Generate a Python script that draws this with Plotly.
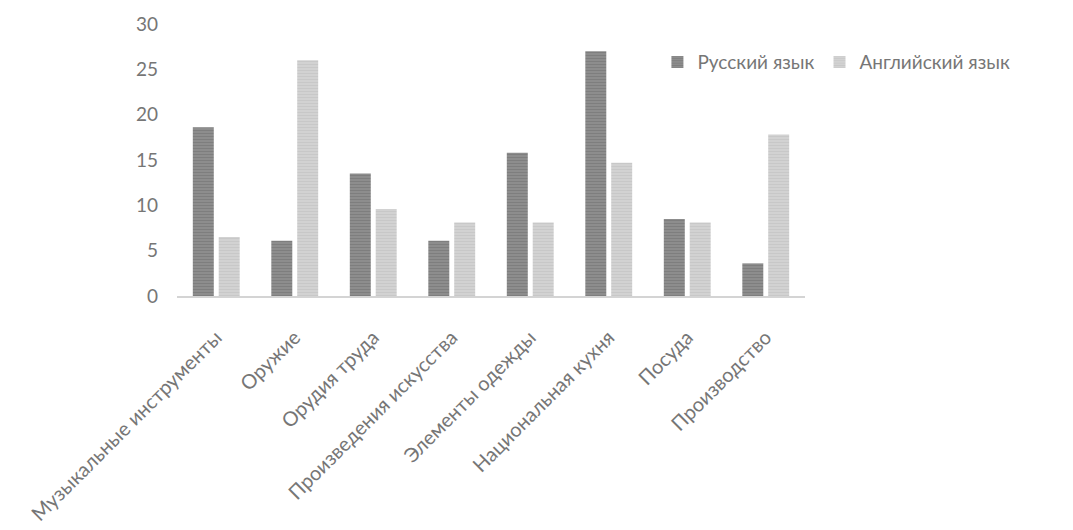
import plotly.graph_objects as go

categories = ["Музыкальные инструменты", "Оружие", "Орудия труда", "Произведения искусства",
              "Элементы одежды", "Национальная кухня", "Посуда", "Производство"]
russian = [18.6, 6.1, 13.5, 6.1, 15.8, 27.0, 8.5, 3.6]
english = [6.5, 26.0, 9.6, 8.1, 8.1, 14.7, 8.1, 17.8]
series_names = ["Русский язык", "Английский язык"]

FONT = "Lato"
TXT = "#767676"

fig = go.Figure()
fig.add_trace(go.Bar(
    x=categories, y=russian, name=series_names[0],
    marker=dict(color="#8a8a8a", line=dict(width=0),
                pattern=dict(shape="-", fgcolor="#6e6e6e", bgcolor="#8e8e8e", size=3, solidity=0.4)),
))
fig.add_trace(go.Bar(
    x=categories, y=english, name=series_names[1],
    marker=dict(color="#cfcfcf", line=dict(width=0),
                pattern=dict(shape="-", fgcolor="#bdbdbd", bgcolor="#d3d3d3", size=3, solidity=0.4)),
))

fig.update_layout(
    width=1073, height=530,
    margin=dict(l=177, r=268, t=24, b=234),
    paper_bgcolor="white", plot_bgcolor="white",
    barmode="group", bargap=0.34, bargroupgap=0.19,
    font=dict(family=FONT, size=19, color=TXT),
    showlegend=True,
    legend=dict(orientation="h", x=0.765, xanchor="left", y=0.86, yanchor="middle",
                font=dict(family=FONT, size=19, color=TXT),
                itemwidth=30, traceorder="normal", bgcolor="rgba(0,0,0,0)"),
    xaxis=dict(tickangle=-45, showgrid=False, showline=True, linecolor="#d4d4d4", linewidth=2,
               ticks="", tickfont=dict(family=FONT, size=20, color=TXT), automargin=False,
               ticklabelstandoff=20),
    yaxis=dict(range=[0, 30], dtick=5, showgrid=False, zeroline=False, showline=False,
               ticks="", tickfont=dict(family=FONT, size=19, color=TXT),
               ticklabelstandoff=18, automargin=False),
)

fig.write_html("out.html")
